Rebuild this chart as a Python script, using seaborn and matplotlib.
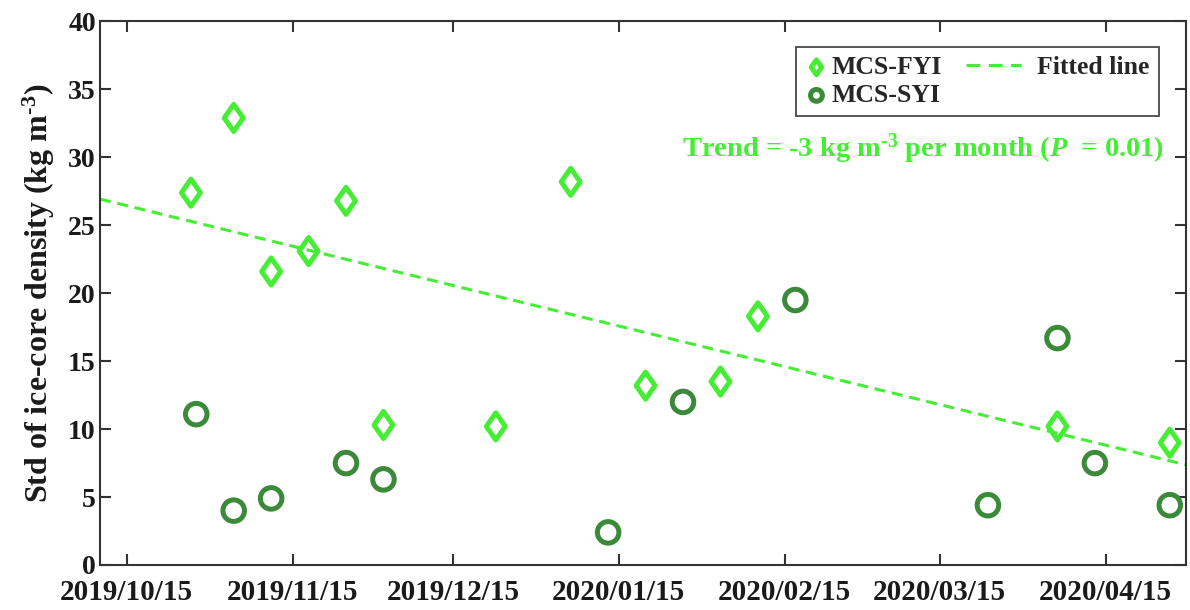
import numpy as np
import pandas as pd
import matplotlib
matplotlib.use("Agg")
import matplotlib.pyplot as plt
import matplotlib.dates as mdates
from matplotlib.path import Path
from matplotlib.lines import Line2D
from matplotlib.legend_handler import HandlerLine2D
import seaborn as sns

# ---------------- data ----------------
fyi_dates = ["2019-10-27", "2019-11-04", "2019-11-11", "2019-11-18", "2019-11-25",
             "2019-12-02", "2019-12-23", "2020-01-06", "2020-01-20", "2020-02-03",
             "2020-02-10", "2020-04-06", "2020-04-27"]
fyi_std = [27.4, 32.9, 21.6, 23.1, 26.8, 10.3, 10.2, 28.2, 13.2, 13.5, 18.3, 10.2, 9.0]

syi_dates = ["2019-10-28", "2019-11-04", "2019-11-11", "2019-11-25", "2019-12-02",
             "2020-01-13", "2020-01-27", "2020-02-17", "2020-03-24", "2020-04-06",
             "2020-04-13", "2020-04-27"]
syi_std = [11.1, 4.0, 4.9, 7.5, 6.3, 2.4, 12.0, 19.5, 4.4, 16.7, 7.5, 4.4]

tick_labels = ["2019/10/15", "2019/11/15", "2019/12/15", "2020/01/15",
               "2020/02/15", "2020/03/15", "2020/04/15"]
x_limits = ["2019-10-10", "2020-04-30"]
trend_text = r"Trend = -3 kg m$^{\text{-3}}$ per month ($\boldsymbol{P}$  = 0.01)"
y_label = r"Std of ice-core density (kg m$^{\text{-3}}$)"

# ---------------- style ----------------
sns.set_theme(style="ticks")
plt.rcParams["font.family"] = ["Liberation Serif", "DejaVu Serif"]
plt.rcParams["font.weight"] = "bold"
plt.rcParams["mathtext.fontset"] = "custom"
plt.rcParams["mathtext.rm"] = "Liberation Serif:bold"
plt.rcParams["mathtext.it"] = "Liberation Serif:bold:italic"
plt.rcParams["mathtext.bf"] = "Liberation Serif:bold"
plt.rcParams["mathtext.bfit"] = "Liberation Serif:bold:italic"

light = "#45EE34"
dark = "#3A8A3A"
axc = "#333333"
txt = "#1a1a1a"

# diamond marker a little wider than matplotlib's thin diamond
diamond = Path([(0, 1), (0.7, 0), (0, -1), (-0.7, 0), (0, 1)],
               [Path.MOVETO, Path.LINETO, Path.LINETO, Path.LINETO, Path.CLOSEPOLY])

fyi = pd.DataFrame({"date": mdates.datestr2num(fyi_dates), "std": fyi_std})
syi = pd.DataFrame({"date": mdates.datestr2num(syi_dates), "std": syi_std})

fig = plt.figure(figsize=(11.9, 6.1), dpi=100)
ax = fig.add_axes([0.084, 0.0738, 0.9125, 0.891])

xl = mdates.datestr2num(x_limits)
ax.set_xlim(xl[0], xl[1])
ax.set_ylim(0, 40)

sns.scatterplot(data=fyi, x="date", y="std", ax=ax, marker=diamond, s=380,
                color=light, facecolor="none", edgecolor=light, linewidth=3.6,
                label="MCS-FYI", zorder=3)
sns.scatterplot(data=syi, x="date", y="std", ax=ax, marker="o", s=240,
                color=dark, facecolor="none", edgecolor=dark, linewidth=3.6,
                label="MCS-SYI", zorder=3)

# least-squares fit to FYI data, drawn across the full x range
coef = np.polyfit(fyi["date"], fyi["std"], 1)
xx = np.array([xl[0], xl[1]])
fit = pd.DataFrame({"date": xx, "std": np.polyval(coef, xx)})
sns.lineplot(data=fit, x="date", y="std", ax=ax, color=light, linewidth=2.2,
             linestyle=(0, (3.6, 2.2)), label="Fitted line", zorder=2)

# ticks
ax.set_xticks(mdates.datestr2num([t.replace("/", "-") for t in tick_labels]))
ax.set_xticklabels(tick_labels)
ax.set_yticks(np.arange(0, 41, 5))
ax.tick_params(axis="both", direction="in", length=8, width=1.5, color=axc,
               labelcolor=txt, top=True, right=True)
ax.tick_params(axis="x", labelsize=21, pad=10)
ax.tick_params(axis="y", labelsize=20, pad=3)
for lab in ax.get_xticklabels() + ax.get_yticklabels():
    lab.set_fontweight("bold")
for sp in ax.spines.values():
    sp.set_visible(True)
    sp.set_color(axc)
    sp.set_linewidth(1.5)

ax.set_xlabel("")
ax.set_ylabel(y_label, fontsize=23, fontweight="bold", color=txt, labelpad=8)


class LongDash(HandlerLine2D):
    def get_xdata(self, legend, xdescent, ydescent, width, height, fontsize):
        xd = np.array([-xdescent - 1.71 * fontsize, -xdescent + 0.43 * fontsize])
        return xd, xd


handles, labels = ax.get_legend_handles_labels()
leg = ax.legend(handles, labels, loc="upper right", bbox_to_anchor=(0.975, 0.953),
                borderaxespad=0, ncol=2, frameon=True, fancybox=False,
                edgecolor=txt,
                prop={"family": "Liberation Serif", "weight": "bold", "size": 18.5},
                markerscale=0.55, handlelength=0.9, handletextpad=0.15,
                columnspacing=2.65, labelspacing=0.2, borderpad=0.35,
                handler_map={Line2D: LongDash()})
leg.get_frame().set_linewidth(1.3)
for h in leg.legend_handles:
    if isinstance(h, Line2D):
        h.set_linestyle((0, (4.5, 2.8)))

ax.text(0.98, 0.765, trend_text, transform=ax.transAxes, ha="right", va="center",
        color=light, fontsize=20.5, fontweight="bold")

fig.savefig("out.png", dpi=100)
